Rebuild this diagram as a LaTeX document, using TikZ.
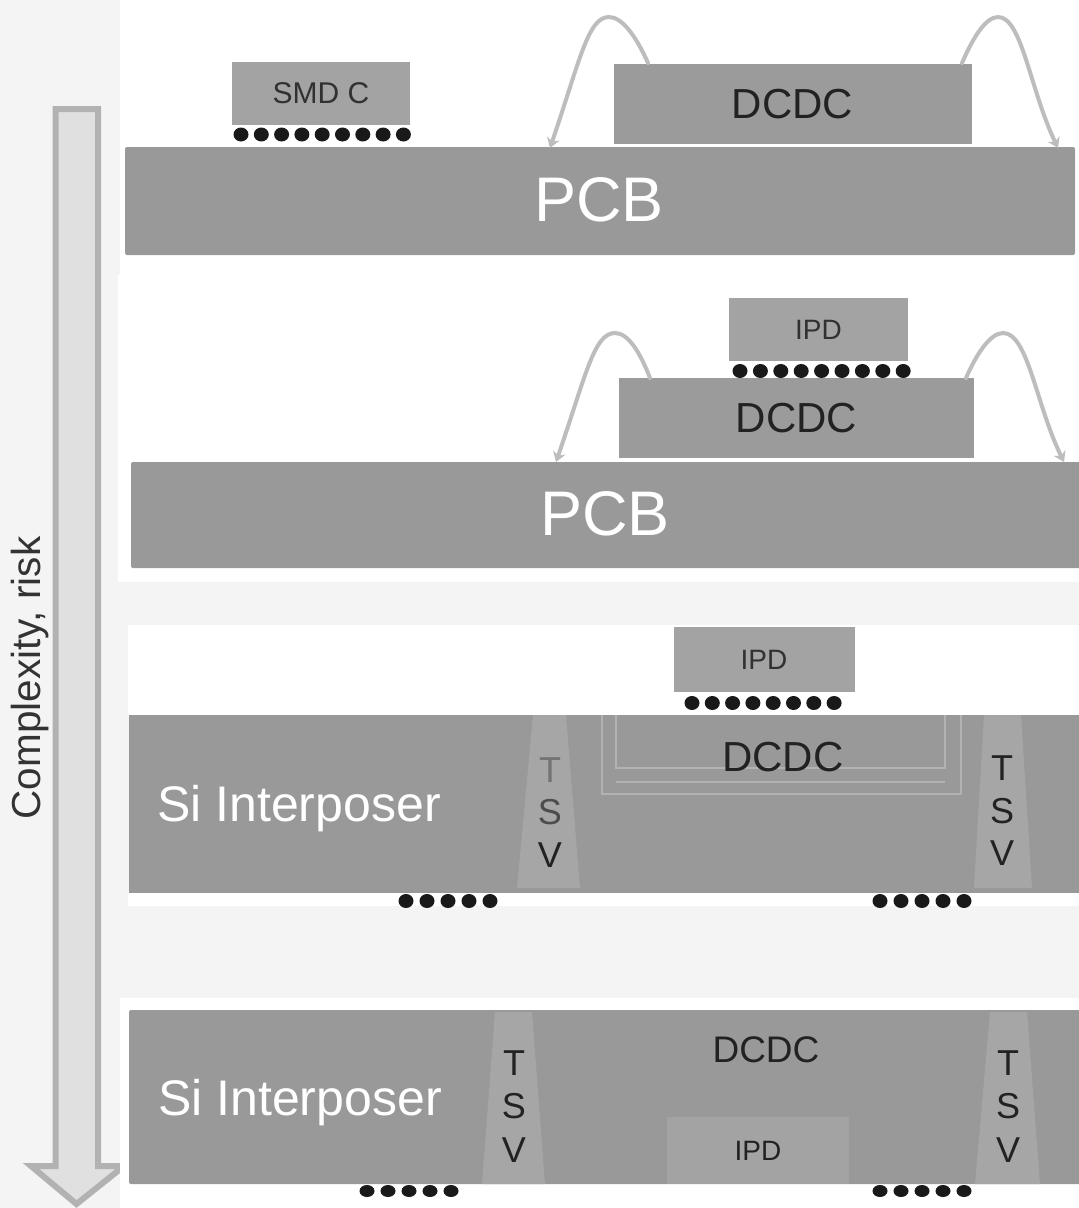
\documentclass[tikz,border=0pt]{standalone}
\usepackage{fontspec}
\setmainfont{Liberation Sans}
\usetikzlibrary{arrows.meta,shapes.geometric}
\definecolor{bgray}{HTML}{F4F4F4}
\definecolor{slab}{HTML}{999999}
\definecolor{chip}{HTML}{9B9B9B}
\definecolor{ipdc}{HTML}{A3A3A3}
\definecolor{tsvc}{HTML}{A6A6A6}
\definecolor{wirec}{HTML}{BDBDBD}
\definecolor{arrowline}{HTML}{B2B2B2}
\definecolor{arrowfill}{HTML}{E0E0E0}
\definecolor{inkc}{HTML}{222222}
\newcommand{\fsz}[1]{\fontsize{#1}{#1}\selectfont}
\tikzset{
  panel/.style={fill=white,draw=none},
  slabbox/.style={draw=none,fill=slab,rounded corners=2pt,inner sep=0pt,text=white,font=\fsz{60}},
  dcdcbox/.style={draw=none,fill=chip,inner sep=0pt,text=inkc,font=\fsz{42}},
  ipdbox/.style={draw=none,fill=ipdc,inner sep=0pt,text=black!70!ipdc,font=\fsz{28}},
  ball/.style={ellipse,fill=black!90,draw=none,inner sep=0pt,minimum width=15pt,minimum height=14pt},
  bond/.style={draw=wirec,line width=4pt,line cap=round,-{Stealth[length=10pt,width=13pt]}},
  tsvbox/.style={fill=tsvc,draw=none},
  tsvtext/.style={text=inkc,font=\fsz{36},inner sep=0pt},
  silabel/.style={text=white,font=\fsz{50},inner sep=0pt},
  frameline/.style={draw=#1,line width=2.5pt},
  frameline/.default=arrowline
}
\begin{document}
\begin{tikzpicture}[x=1pt,y=-1pt]
\useasboundingbox (0,0) rectangle (1079,1208);
\fill[bgray] (0,0) rectangle (1079,1208);

% Complexity arrow
\draw[arrowline,fill=arrowfill,line width=6pt,miter limit=10]
  (55.5,109) -- (98,109) -- (98,1166) -- (124,1166) -- (76.5,1204) -- (31,1166) -- (55.5,1166) -- cycle;
\node[rotate=90,text=black!80,font=\fsz{40.5},inner sep=0pt] (risk) at (30,678) {Complexity, risk};

% white panels
\fill[panel] (120,0) rectangle (1079,275);
\fill[panel] (118,275) rectangle (1079,582);
\fill[panel] (128,625) rectangle (1079,716);
\fill[panel] (128,892) rectangle (1079,906);
\fill[panel] (120,998) rectangle (1079,1208);

% ---- Row 1
\node[slabbox,minimum width=950pt,minimum height=108pt,text depth=0pt] (pcbA) at (600,201) {};
\node[text=white,font=\fsz{63},inner sep=0pt] (pcbAt) at (599,200) {PCB};
\node[dcdcbox,minimum width=358pt,minimum height=80pt] (dcdcA) at (792.5,104) {DCDC};
\node[ipdbox,minimum width=178pt,minimum height=63pt,font=\fsz{30}] (smd) at (321,93.5) {SMD C};
\foreach \i in {0,...,8} \node[ball,name=ballA\i] at ({241+\i*20.3},134.5) {};
\coordinate (wA1) at (648,63);
\coordinate (wA2) at (550,148);
\coordinate (wA3) at (962,63);
\coordinate (wA4) at (1058,148);
\draw[bond] (wA1) .. controls (636,36) and (622,17) .. (609,17) .. controls (588,17) and (580,60) .. (wA2);
\draw[bond] (wA3) .. controls (972,40) and (985,17) .. (998,17) .. controls (1022,17) and (1030,90) .. (wA4);

% ---- Row 2
\node[slabbox,minimum width=952pt,minimum height=106pt] (pcbB) at (607,515) {};
\node[text=white,font=\fsz{63},inner sep=0pt] (pcbBt) at (605,514) {PCB};
\node[dcdcbox,minimum width=355pt,minimum height=80pt] (dcdcB) at (796.5,418) {DCDC};
\node[ipdbox,minimum width=179pt,minimum height=63pt] (ipdB) at (818.5,329.5) {IPD};
\foreach \i in {0,...,8} \node[ball,name=ballB\i] at ({740+\i*20.4},371) {};
\coordinate (wB1) at (650,378);
\coordinate (wB2) at (556,462);
\coordinate (wB3) at (966,378);
\coordinate (wB4) at (1064,462);
\draw[bond] (wB1) .. controls (640,352) and (628,333) .. (615,333) .. controls (594,333) and (586,375) .. (wB2);
\draw[bond] (wB3) .. controls (976,355) and (990,333) .. (1003,333) .. controls (1028,333) and (1036,405) .. (wB4);

% ---- Row 3
\node[slabbox,rounded corners=0pt,minimum width=950pt,minimum height=178pt] (siC) at (604,804) {};
\node[silabel] (siCt) at (299,809) {Si Interposer};
\draw[frameline] (602,715) -- (602,794) -- (961,794) -- (961,715);
\draw[frameline] (616,715) -- (616,768) -- (945,768) -- (945,715);
\draw[frameline] (616,782) -- (945,782);
\node[text=inkc,font=\fsz{42},inner sep=0pt] (dcdcC) at (783,757) {DCDC};
\node[ipdbox,minimum width=181pt,minimum height=65pt] (ipdC) at (764,659.5) {IPD};
\foreach \i in {0,...,7} \node[ball,name=ballC\i] at ({692+\i*20.3},703) {};
\fill[tsvbox] (533,715) -- (566,715) -- (580,888) -- (517,888) -- cycle;
\node[tsvtext,text=black!55] (tsvC1) at (550,770) {T};
\node[tsvtext,text=black!70] (tsvC2) at (550,812) {S};
\node[tsvtext] (tsvC3) at (550,855) {V};
\fill[tsvbox] (984,715) -- (1021,715) -- (1032,888) -- (974,888) -- cycle;
\node[tsvtext] (tsvC4) at (1002,768) {T};
\node[tsvtext] (tsvC5) at (1002,811) {S};
\node[tsvtext] (tsvC6) at (1002,853) {V};
\foreach \i in {0,...,4} \node[ball,name=ballC\i l] at ({406+\i*21},901) {};
\foreach \i in {0,...,4} \node[ball,name=ballC\i r] at ({880+\i*21},901) {};

% ---- Row 4
\node[slabbox,minimum width=952pt,minimum height=174pt] (siD) at (605,1097) {};
\node[silabel] (siDt) at (300,1103) {Si Interposer};
\fill[tsvbox] (495,1012) -- (532,1012) -- (545,1184) -- (482,1184) -- cycle;
\fill[tsvbox] (990,1012) -- (1027,1012) -- (1040,1184) -- (975,1184) -- cycle;
\node[tsvtext] (tsvD1) at (514,1063) {T};
\node[tsvtext] (tsvD2) at (514,1106) {S};
\node[tsvtext] (tsvD3) at (514,1150) {V};
\node[tsvtext] (tsvD4) at (1008,1063) {T};
\node[tsvtext] (tsvD5) at (1008,1106) {S};
\node[tsvtext] (tsvD6) at (1008,1150) {V};
\node[text=inkc,font=\fsz{37},inner sep=0pt] (dcdcD) at (766,1050) {DCDC};
\node[ipdbox,minimum width=182pt,minimum height=67pt,text=inkc] (ipdD) at (758,1150.5) {IPD};
\foreach \i in {0,...,4} \node[ball,name=ballD\i l,minimum height=12pt] at ({367+\i*21},1191) {};
\foreach \i in {0,...,4} \node[ball,name=ballD\i r,minimum height=12pt] at ({880+\i*21},1191) {};
\end{tikzpicture}
\end{document}
